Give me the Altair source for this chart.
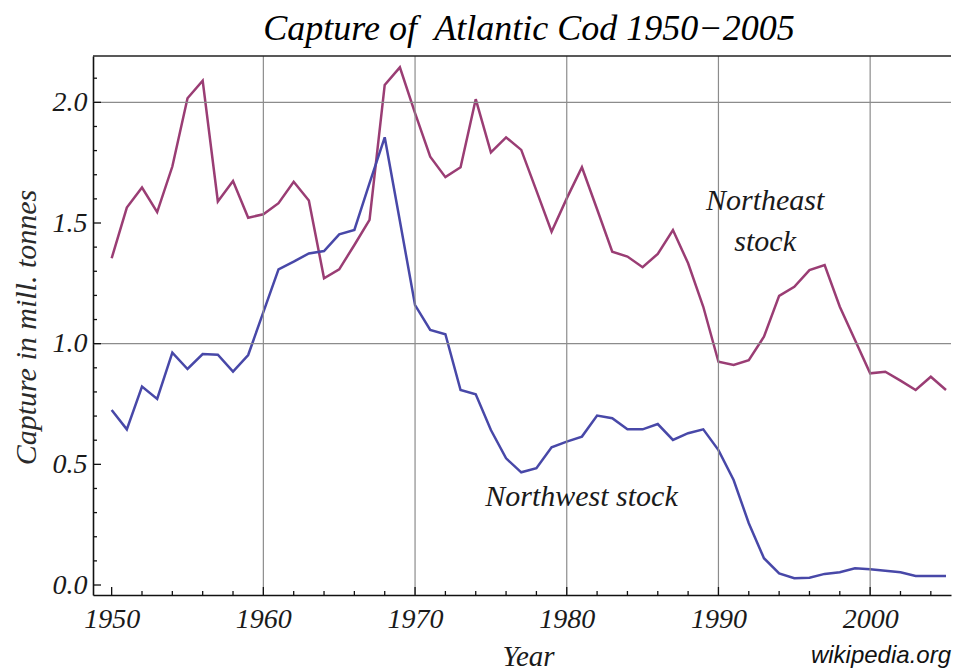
import altair as alt
import pandas as pd

# ---------------- data ----------------
years = list(range(1950, 2006))

northeast = [1.354, 1.564, 1.647, 1.545, 1.734, 2.017, 2.090, 1.589, 1.674, 1.522,
             1.536, 1.582, 1.671, 1.593, 1.271, 1.308, 1.409, 1.513, 2.072, 2.145,
             1.955, 1.775, 1.690, 1.731, 2.013, 1.793, 1.855, 1.803, 1.634, 1.464,
             1.602, 1.731, 1.557, 1.381, 1.361, 1.317, 1.372, 1.471, 1.333, 1.153,
             0.925, 0.912, 0.932, 1.029, 1.198, 1.236, 1.305, 1.326, 1.153, 1.015,
             0.877, 0.884, 0.847, 0.808, 0.863, 0.808]

northwest = [0.725, 0.645, 0.822, 0.771, 0.963, 0.895, 0.957, 0.954, 0.884, 0.953,
             1.131, 1.308, 1.340, 1.374, 1.384, 1.453, 1.471, 1.665, 1.855, 1.508,
             1.160, 1.057, 1.039, 0.808, 0.790, 0.642, 0.525, 0.467, 0.484, 0.571,
             0.594, 0.615, 0.702, 0.691, 0.645, 0.645, 0.667, 0.601, 0.629, 0.645,
             0.559, 0.435, 0.256, 0.111, 0.048, 0.028, 0.030, 0.046, 0.053, 0.069,
             0.065, 0.059, 0.053, 0.037, 0.037, 0.037]

series_names = ["Northeast stock", "Northwest stock"]
series_colors = ["#9a3d74", "#4848a8"]

chart_title = "Capture of\u00a0 Atlantic Cod 1950\u22122005"

x_labels = [1950, 1960, 1970, 1980, 1990, 2000]
y_labels = [0.0, 0.5, 1.0, 1.5, 2.0]
x_grid = [1960, 1970, 1980, 1990, 2000]
y_grid = [1.0, 2.0]
x_ticks_major = [1950, 1960, 1970, 1980, 1990, 2000]
x_ticks_minor = [1952, 1954, 1956, 1958, 1962, 1964, 1966, 1968, 1972, 1974, 1976,
                 1978, 1982, 1984, 1986, 1988, 1992, 1994, 1996, 1998, 2002, 2004]
y_ticks_major = [0.0, 0.5, 1.0, 1.5, 2.0]
y_ticks_minor = [0.1, 0.2, 0.3, 0.4, 0.6, 0.7, 0.8, 0.9, 1.1, 1.2, 1.3, 1.4,
                 1.6, 1.7, 1.8, 1.9, 2.1]

annot_text = ["Northeast", "stock", "Northwest stock"]
annot_year = [1993.08, 1993.08, 1980.97]
annot_value = [1.591, 1.423, 0.366]

x_domain = [1948.77, 2005.33]
y_domain = [-0.0414, 2.192]

# ---------------- layout / style ----------------
W, H = 858, 539
SERIF = "Liberation Serif"
SANS = "Liberation Sans"
TXT = "#1a1a1a"

df = pd.DataFrame({
    "year": years * 2,
    "capture": northeast + northwest,
    "stock": [series_names[0]] * len(years) + [series_names[1]] * len(years),
})

xs = alt.Scale(domain=x_domain, nice=False, zero=False)
ys = alt.Scale(domain=y_domain, nice=False, zero=False)

x_axis = alt.Axis(values=x_labels, format="d", ticks=False, grid=False,
                  domainColor="#111111", domainWidth=1.6,
                  labelFont=SERIF, labelFontStyle="italic", labelFontSize=28,
                  labelColor=TXT, labelPadding=10, labelFlush=False, labelOverlap=False,
                  title="Year", titleFont=SERIF, titleFontStyle="italic",
                  titleFontWeight="normal", titleFontSize=29, titleColor=TXT,
                  titleBaseline="alphabetic", titleX=435, titleY=70, titleAlign="center")
y_axis = alt.Axis(values=y_labels, format=".1f", ticks=False, grid=False,
                  domainColor="#111111", domainWidth=1.6,
                  labelFont=SERIF, labelFontStyle="italic", labelFontSize=28,
                  labelColor=TXT, labelPadding=6, labelFlush=False, labelOverlap=False,
                  title="Capture in mill. tonnes", titleFont=SERIF, titleFontStyle="italic",
                  titleFontWeight="normal", titleFontSize=30, titleColor="#2a2a2a",
                  titleBaseline="alphabetic", titleX=-58, titleY=271, titleAlign="center",
                  titleAngle=270)


def X(field):
    return alt.X(field, scale=xs, axis=x_axis)


def Y(field):
    return alt.Y(field, scale=ys, axis=y_axis)


lines = alt.Chart(df).mark_line(strokeWidth=2.5).encode(
    x=X("year:Q"),
    y=Y("capture:Q"),
    color=alt.Color("stock:N", scale=alt.Scale(domain=series_names, range=series_colors),
                    legend=None),
)

grid_x = alt.Chart(pd.DataFrame({"year": x_grid})).mark_rule(color="#8c8c8c", strokeWidth=1.2).encode(
    x=X("year:Q"))
grid_y = alt.Chart(pd.DataFrame({"capture": y_grid})).mark_rule(color="#8c8c8c", strokeWidth=1.2).encode(
    y=Y("capture:Q"))

top_frame = alt.Chart(pd.DataFrame({"a": [0]})).mark_rule(color="#222222", strokeWidth=1.4).encode(
    y=alt.value(0), x=alt.value(0), x2=alt.value(W))


def xticks(vals, length):
    return alt.Chart(pd.DataFrame({"year": vals})).mark_rule(color="#111111", strokeWidth=1.3).encode(
        x=X("year:Q"), y=alt.value(H), y2=alt.value(H - length))


def yticks(vals, length):
    return alt.Chart(pd.DataFrame({"capture": vals})).mark_rule(color="#111111", strokeWidth=1.3).encode(
        y=Y("capture:Q"), x=alt.value(0), x2=alt.value(length))


annot = alt.Chart(pd.DataFrame({"text": annot_text, "year": annot_year, "capture": annot_value})).mark_text(
    font=SERIF, fontStyle="italic", fontSize=30, color=TXT, align="center", baseline="middle"
).encode(
    x=X("year:Q"),
    y=Y("capture:Q"),
    text="text:N",
)

title_mark = alt.Chart(pd.DataFrame({"text": [chart_title]})).mark_text(
    font=SERIF, fontStyle="italic", fontSize=36, color="black", align="center", baseline="alphabetic"
).encode(x=alt.value(W / 2 + 7), y=alt.value(-16), text="text:N")

credit = alt.Chart(pd.DataFrame({"text": ["wikipedia.org"]})).mark_text(
    font=SANS, fontStyle="italic", fontSize=24, color="#111111", align="right", baseline="alphabetic"
).encode(x=alt.value(W), y=alt.value(H + 68), text="text:N")

chart = alt.layer(
    lines, grid_x, grid_y, top_frame,
    xticks(x_ticks_major, 8), xticks(x_ticks_minor, 4),
    yticks(y_ticks_major, 8), yticks(y_ticks_minor, 4),
    annot, title_mark, credit,
).properties(
    width=W, height=H,
    autosize=alt.AutoSizeParams(type="none"),
    padding={"left": 85, "top": 48, "right": 1, "bottom": 76},
    background="white",
).configure_view(stroke=None)

chart.save("out.html", embed_options={"renderer": "svg", "actions": False})
